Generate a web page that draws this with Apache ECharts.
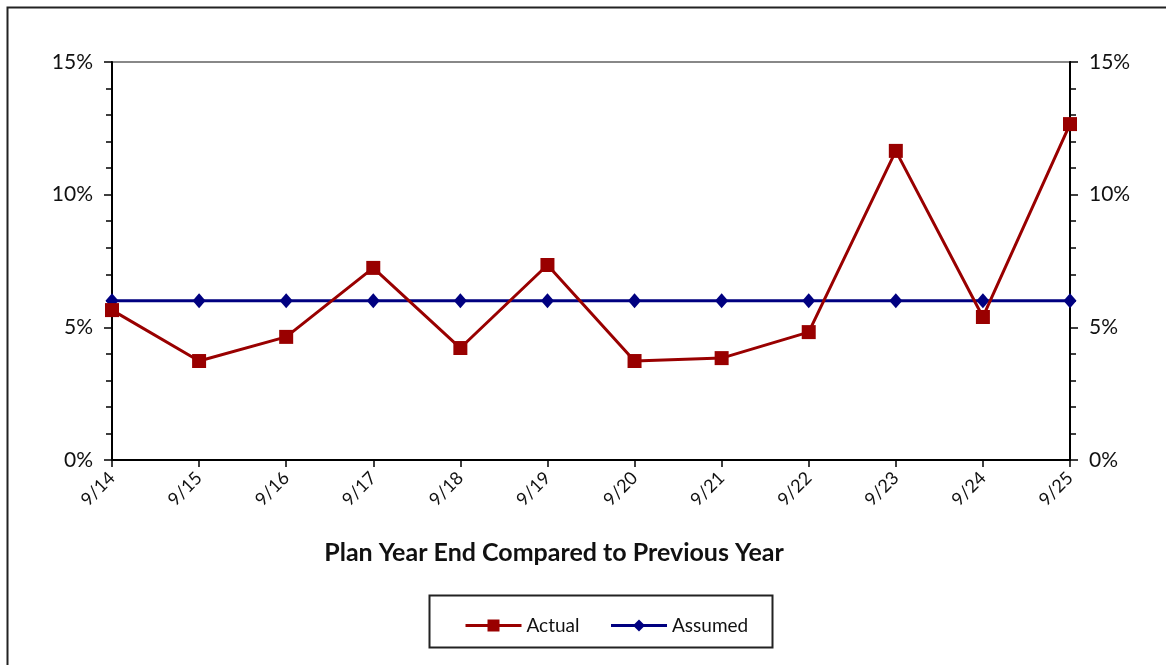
<!DOCTYPE html>
<html><head><meta charset="utf-8">
<script src="https://cdn.jsdelivr.net/npm/echarts@6/dist/echarts.min.js"></script>
<style>html,body{margin:0;padding:0;background:#fff}#c{width:1166px;height:665px}</style>
</head><body><div id="c"></div>
<script>
const categories = ['9/14','9/15','9/16','9/17','9/18','9/19','9/20','9/21','9/22','9/23','9/24','9/25'];
const actual = [5.65, 3.73, 4.64, 7.24, 4.22, 7.35, 3.73, 3.84, 4.82, 11.65, 5.39, 12.66];
const assumed = [6, 6, 6, 6, 6, 6, 6, 6, 6, 6, 6, 6];
const yTicks = [0, 5, 10, 15];
const FONT = 'Lato, "Open Sans", sans-serif';
const chart = echarts.init(document.getElementById('c'), null, {renderer:'canvas'});
const yAxisCommon = {
  type:'value', min:yTicks[0], max:yTicks[yTicks.length-1], interval:5,
  axisLine:{show:true, lineStyle:{color:'#000', width:2}},
  axisTick:{show:true, length:8, lineStyle:{color:'#000', width:1.5}},
  minorTick:{show:true, splitNumber:5, length:6, lineStyle:{color:'#000', width:1.5}},
  splitLine:{show:false},
  axisLabel:{formatter:v=>v+'%', fontFamily:FONT, fontSize:21, color:'#111', margin:19}
};
chart.setOption({
  animation:false,
  backgroundColor:'#fff',
  graphic:[
    {type:'rect', shape:{x:7.5, y:7.5, width:1200, height:700}, style:{fill:null, stroke:'#222', lineWidth:2}},
    {type:'rect', shape:{x:429.5, y:595.5, width:343, height:52}, style:{fill:null, stroke:'#222', lineWidth:2}},
    {type:'text', x:554, y:553, style:{text:'Plan Year End Compared to Previous Year', font:'bold 25px '+FONT, fill:'#111', align:'center', verticalAlign:'middle'}}
  ],
  grid:{left:112, right:96, top:62, bottom:205, show:true, borderColor:'#888', borderWidth:2},
  legend:{left:459, top:611, itemWidth:56, itemHeight:15, itemGap:30,
    lineStyle:{width:3},
    textStyle:{fontFamily:FONT, fontSize:19, color:'#111'},
    data:['Actual','Assumed']},
  xAxis:{type:'category', data:categories, boundaryGap:false,
    axisLine:{lineStyle:{color:'#000', width:2}},
    axisTick:{length:7, lineStyle:{color:'#000', width:1.5}},
    axisLabel:{rotate:45, fontFamily:FONT, fontSize:18, color:'#111', margin:15}},
  yAxis:[Object.assign({position:'left'}, yAxisCommon),
         Object.assign({position:'right'}, yAxisCommon)],
  series:[
    {name:'Actual', type:'line', data:actual, yAxisIndex:0, symbol:'rect', symbolSize:14,
     lineStyle:{color:'#990000', width:3}, itemStyle:{color:'#990000'}, z:3},
    {name:'Assumed', type:'line', data:assumed, yAxisIndex:0, symbol:'diamond', symbolSize:[13,15],
     lineStyle:{color:'#000080', width:3}, itemStyle:{color:'#000080'}, z:2}
  ]
});
</script></body></html>
